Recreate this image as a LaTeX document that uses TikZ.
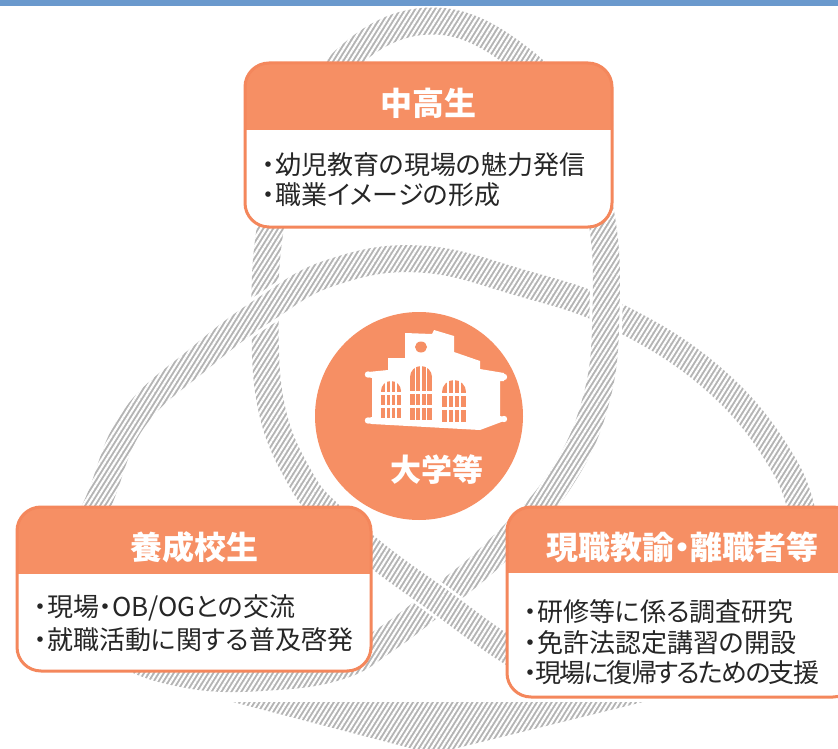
\documentclass[tikz,border=0pt]{standalone}
\usepackage{fontspec}
\newfontfamily\jp[RawFeature={+palt}]{Noto Sans CJK JP}
\usetikzlibrary{patterns.meta}
\definecolor{org}{HTML}{F68F64}
\definecolor{orgline}{HTML}{F4875C}
\definecolor{blu}{HTML}{6A99CD}
\definecolor{hat}{HTML}{B4B4B4}
\definecolor{txt}{HTML}{262626}
\tikzset{
  band/.style={line width=27pt, draw=hat, preaction={draw=white, line width=33pt}},
  body/.style={anchor=west, inner sep=0pt, text=txt, font=\jp\fontsize{26}{30}\selectfont},
  head/.style={inner sep=0pt, text=white, font=\jp\bfseries\fontsize{32}{36}\selectfont},
  boxline/.style={draw=orgline, line width=3pt, rounded corners=24pt},
}
\begin{document}
\begin{tikzpicture}[x=1pt,y=-1pt]
\useasboundingbox (0,0) rectangle (838,749);
\clip (0,0) rectangle (838,749);
% ---------- knot ----------
\fill[hat] (233,702) -- (643,702) -- (433,754) -- cycle;
% strand Tb (top of loop, right leg, continuation under left box)
\draw[band] plot[smooth, tension=0.7] coordinates {(290,150) (345,60) (433,21) (522,60) (575,130) (601,215) (606,310) (596,400) (560,480) (500,548) (438,600) (385,640) (340,666) (270,677) (190,675) (120,650) (80,600)};
% strand Ta (continuation under right box, left leg)
\draw[band] plot[smooth, tension=0.7] coordinates {(550,675) (500,645) (438,600) (380,558) (330,515) (300,478) (272,410) (265,320) (270,230) (290,150)};
% strand B (big arc)
\draw[band] plot[smooth, tension=0.7] coordinates {(60,580) (97,505) (133,420) (200,358) (267,308) (333,272) (420,259) (518,282) (618,317) (718,383) (785,467) (805,530)};
% Tb over B at upper right
\begin{scope}
\clip (606,313) circle[radius=40];
\draw[band] plot[smooth, tension=0.7] coordinates {(290,150) (345,60) (433,21) (522,60) (575,130) (601,215) (606,310) (596,400) (560,480) (500,548) (438,600) (385,640) (340,666) (270,677) (190,675) (120,650) (80,600)};
\end{scope}
% hatch
\fill[pattern={Lines[angle=58,distance=4.2pt,line width=2.1pt]}, pattern color=white] (0,6) rectangle (838,749);
% ---------- top bar ----------
\fill[blu] (0,0) rectangle (838,6);
% ---------- boxes ----------
\begin{scope}
\clip[rounded corners=24pt] (245,63) rectangle (612,227);
\fill[white] (245,63) rectangle (612,227);
\fill[org] (245,63) rectangle (612,130);
\end{scope}
\draw[boxline] (245,63) rectangle (612,227);
\begin{scope}
\clip[rounded corners=24pt] (17,507) rectangle (371,671);
\fill[white] (17,507) rectangle (371,671);
\fill[org] (17,507) rectangle (371,574);
\end{scope}
\draw[boxline] (17,507) rectangle (371,671);
\begin{scope}
\clip[rounded corners=24pt] (507,507) rectangle (857,697);
\fill[white] (507,507) rectangle (857,697);
\fill[org] (507,507) rectangle (857,573);
\end{scope}
\draw[boxline] (507,507) rectangle (857,697);
% ---------- center circle ----------
\fill[org] (419,416) circle[radius=104];
% building
\fill[white] (368,372) -- (388,370) -- (388,358) -- (405,358) -- (405,333) -- (432,334) -- (434,330) -- (454,336) -- (454,352) -- (480,361) -- (480,369) -- (504,373) -- (504,381) -- (500,381) -- (500,416) -- (504,417) -- (504,421) -- (480,430) -- (372,424) -- (368,423) -- (368,418) -- (372,417) -- (372,378) -- (368,377) -- cycle;
\foreach \p in {(368,374.5),(504,377),(368,420.5),(504,419)} \fill[white] \p circle[radius=3.2];
\fill[org] (421,347) ellipse[x radius=6, y radius=5.5];
% windows
\fill[org] (381,391) rectangle (401,418); \fill[org] (391,391) circle[radius=10];
\fill[org] (410,377) rectangle (432,420); \fill[org] (421,377) circle[radius=11];
\fill[org] (442,392) rectangle (466,422); \fill[org] (454,392) circle[radius=12];
\begin{scope}[white, line width=1.6pt]
\foreach \x in {386,391,396} \draw (\x,380) -- (\x,419);
\foreach \x in {415.5,421,426.5} \draw (\x,365) -- (\x,421);
\foreach \x in {448,454,460} \draw (\x,379) -- (\x,423);
\end{scope}
\begin{scope}[white, line width=3pt]
\draw (380,393.5) -- (402,393.5); \draw (380,406.5) -- (402,406.5);
\draw (409,392) -- (433,392); \draw (409,406) -- (433,406);
\draw (441,394) -- (467,394); \draw (441,408) -- (467,408);
\end{scope}
\node[inner sep=0pt, text=white, font=\jp\bfseries\fontsize{31}{34}\selectfont] (uni) at (437,470) {大学等};
% ---------- texts ----------
\node[head] (h1) at (428,103) {中高生};
\node[body] (t1) at (262,165) {・幼児教育の現場の魅力発信};
\node[body] (t2) at (262,195) {・職業イメージの形成};
\node[head] (h2) at (194,547) {養成校生};
\node[body] (l1) at (34,608) {・現場・OB/OGとの交流};
\node[body] (l2) at (34,640) {・就職活動に関する普及啓発};
\node[head] (h3) at (682,547) {現職教諭・離職者等};
\node[body] (r1) at (524,612) {・研修等に係る調査研究};
\node[body] (r2) at (524,643) {・免許法認定講習の開設};
\node[body, font=\jp\fontsize{26}{30}\selectfont\addfontfeature{LetterSpace=-7}] (r3) at (524,673) {・現場に復帰するための支援};
\end{tikzpicture}
\end{document}
